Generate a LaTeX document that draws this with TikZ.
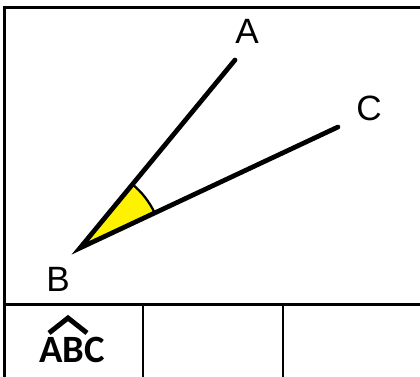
\documentclass[tikz,border=0pt]{standalone}
\usepackage{fontspec}
\setmainfont{Liberation Sans}
\newfontfamily\calibrifont{Carlito}
\usetikzlibrary{angles}

\begin{document}
\begin{tikzpicture}[x=0.02cm,y=-0.02cm,
  ray/.style={line width=2.7pt,line cap=round},
  frameline/.style={line width=1.7pt},
  vertexlabel/.style={font=\fontsize{20}{20}\selectfont,inner sep=0pt},
  anglemark/.style={draw,fill=yellow,line width=1.3pt,angle radius=1.65cm}
]
\useasboundingbox (0,0) rectangle (420,377);
% frame and table (right and bottom edges lie outside the picture)
\begin{scope}
\clip (0,0) rectangle (420,377);
\draw[frameline] (4.5,7.5) rectangle (430,390);
\draw[frameline] (4.5,305) -- (430,305);
\foreach \x in {143,283} \draw[frameline] (\x,305) -- (\x,390);
\end{scope}
% the angle
\coordinate (B) at (80,248);
\coordinate (A) at (235,60);
\coordinate (C) at (338,127);
\pic[anglemark] {angle=C--B--A};
\draw[ray] (A) -- (B) -- (C);
\node[vertexlabel] (labA) at (247,31) {A};
\node[vertexlabel] (labC) at (369,108) {C};
\node[vertexlabel] (labB) at (58,279) {B};
% angle name in the first cell
\node[font=\calibrifont\bfseries\fontsize{22}{22}\selectfont,inner sep=0pt] (abc) at (72,350) {ABC};
\draw[line width=2.8pt] (49,333) -- (68,318) -- (87,333);
\end{tikzpicture}
\end{document}
